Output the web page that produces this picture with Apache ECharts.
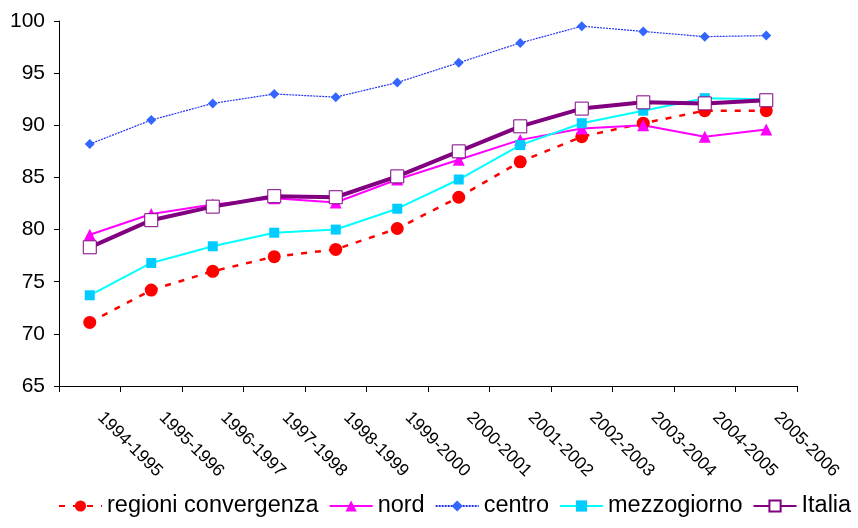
<!DOCTYPE html>
<html>
<head>
<meta charset="utf-8">
<script src="https://cdn.jsdelivr.net/npm/echarts@6/dist/echarts.min.js"></script>
<style>
  html, body { margin: 0; padding: 0; background: #fff; }
  #chart-container { width: 858px; height: 528px; }
</style>
</head>
<body>
<div id="chart-container"></div>
<script>
var categories = ["1994-1995", "1995-1996", "1996-1997", "1997-1998", "1998-1999", "1999-2000",
  "2000-2001", "2001-2002", "2002-2003", "2003-2004", "2004-2005", "2005-2006"];
var regioniConvergenza = [71.1, 74.2, 76.0, 77.4, 78.1, 80.1, 83.1, 86.5, 88.9, 90.2, 91.4, 91.4];
var nord = [79.5, 81.5, 82.4, 83.0, 82.6, 84.8, 86.7, 88.6, 89.7, 90.0, 88.9, 89.6];
var centro = [88.2, 90.5, 92.1, 93.0, 92.7, 94.1, 96.0, 97.9, 99.5, 99.0, 98.5, 98.6];
var mezzogiorno = [73.7, 76.8, 78.4, 79.7, 80.0, 82.0, 84.8, 88.1, 90.2, 91.4, 92.6, 92.5];
var italia = [78.3, 80.9, 82.2, 83.2, 83.1, 85.1, 87.5, 89.9, 91.6, 92.2, 92.1, 92.4];

var dom = document.getElementById("chart-container");
var myChart = echarts.init(dom, null, { renderer: "canvas" });
var font = "Liberation Sans";

var option = {
  animation: false,
  backgroundColor: "#fff",
  grid: { left: 59, right: 61, top: 21, bottom: 142 },
  legend: {
    left: 58,
    top: 494,
    width: 800,
    padding: 0,
    itemWidth: 43,
    itemHeight: 14,
    itemGap: 10,
    textStyle: { fontFamily: font, fontSize: 23.5, color: "#000" },
    data: ["regioni convergenza", "nord", "centro", "mezzogiorno", "Italia"]
  },
  xAxis: {
    type: "category",
    data: categories,
    boundaryGap: true,
    axisLine: { lineStyle: { color: "#000", width: 1 } },
    axisTick: { show: true, length: 6, inside: false, lineStyle: { color: "#000" } },
    axisLabel: {
      rotate: -45,
      margin: 31,
      verticalAlign: "bottom",
      padding: [0, 0, 0, 6],
      fontFamily: font,
      fontSize: 17.5,
      color: "#000"
    }
  },
  yAxis: {
    type: "value",
    min: 65,
    max: 100,
    interval: 5,
    splitLine: { show: false },
    axisLine: { show: true, lineStyle: { color: "#000", width: 1 } },
    axisTick: { show: true, length: 5, lineStyle: { color: "#000" } },
    axisLabel: { margin: 14, fontFamily: font, fontSize: 21, color: "#000" }
  },
  series: [
    {
      name: "regioni convergenza",
      type: "line",
      data: regioniConvergenza,
      symbol: "circle",
      symbolSize: 13,
      showAllSymbol: true,
      itemStyle: { color: "#ff0000" },
      lineStyle: { color: "#ff0000", width: 2.5, type: [6, 8] }
    },
    {
      name: "nord",
      type: "line",
      data: nord,
      symbol: "triangle",
      symbolSize: 12,
      showAllSymbol: true,
      itemStyle: { color: "#ff00ff" },
      lineStyle: { color: "#ff00ff", width: 2 }
    },
    {
      name: "centro",
      type: "line",
      data: centro,
      symbol: "diamond",
      symbolSize: 10,
      showAllSymbol: true,
      itemStyle: { color: "#3366ff" },
      lineStyle: { color: "#2233ee", width: 1.2, type: [2, 1] }
    },
    {
      name: "mezzogiorno",
      type: "line",
      data: mezzogiorno,
      symbol: "rect",
      symbolSize: 10,
      showAllSymbol: true,
      itemStyle: { color: "#00ccff" },
      lineStyle: { color: "#00ffff", width: 2 }
    },
    {
      name: "Italia",
      type: "line",
      data: italia,
      symbol: "rect",
      symbolSize: 13,
      showAllSymbol: true,
      itemStyle: { color: "#ffffff", borderColor: "#800080", borderWidth: 1 },
      lineStyle: { color: "#800080", width: 4 }
    }
  ]
};

myChart.setOption(option);
window.addEventListener("resize", myChart.resize);
</script>
</body>
</html>
